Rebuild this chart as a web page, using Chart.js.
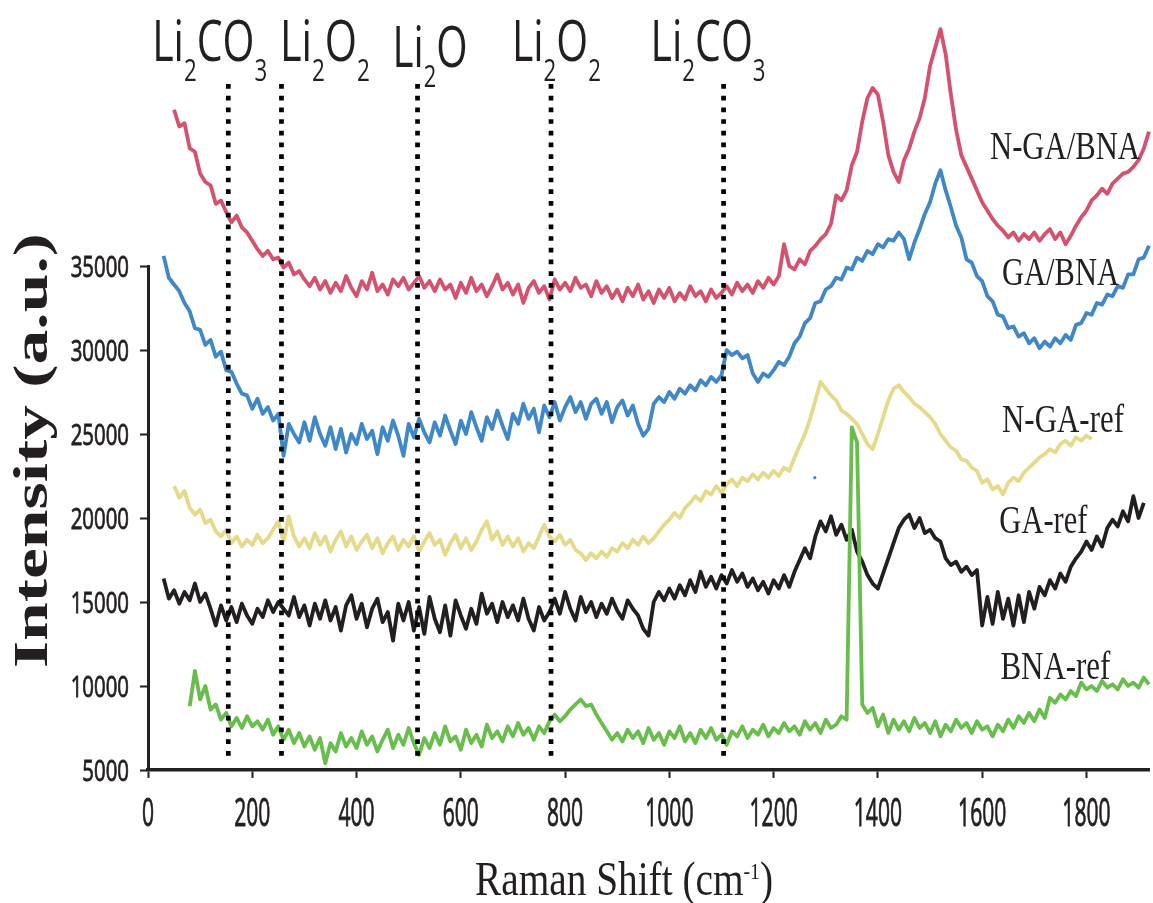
<!DOCTYPE html>
<html>
<head>
<meta charset="utf-8">
<title>Raman spectra</title>
<script src="https://cdn.jsdelivr.net/npm/chart.js@4.4.1/dist/chart.umd.min.js"></script>
<style>
  html, body { margin: 0; padding: 0; background: #fff; }
  canvas { display: block; }
</style>
</head>
<body>
<canvas id="raman" width="1153" height="903"></canvas>
<script>
// Raman shift grid: every spectrum is sampled each 10 cm-1 from its own start
const shiftStep = 10;

// intensities in thousands of counts
const ngaBnaStart = 50;
const ngaBna = [
  44.3, 43.3, 43.5, 42.0, 41.8, 40.5, 40.0, 39.8, 38.7, 38.9,
  38.2, 37.6, 38.0, 37.3, 37.0, 36.5, 36.0, 35.6, 35.9, 35.4,
  35.5, 34.9, 35.2, 34.5, 34.7, 34.2, 33.8, 34.3, 33.6, 34.1,
  33.4, 34.0, 33.5, 34.4, 33.7, 33.2, 34.1, 33.6, 34.6, 33.5,
  33.9, 33.3, 34.2, 33.8, 34.3, 33.6, 34.0, 34.4, 33.7, 34.1,
  33.5, 34.2, 33.6, 33.9, 33.1, 34.0, 33.4, 34.3, 33.5, 33.9,
  33.2, 33.8, 34.5, 33.6, 34.0, 33.3, 33.9, 32.8, 33.7, 34.1,
  33.4, 33.8, 33.0, 34.2, 33.6, 34.0, 33.5, 34.3, 33.7, 33.9,
  33.2, 34.1, 33.4, 33.8, 33.1, 33.6, 32.9, 33.7, 33.2, 33.9,
  33.0, 33.5, 32.8, 33.6, 33.1, 33.7, 32.9, 33.4, 33.0, 33.8,
  33.2, 33.5, 32.9, 33.6, 33.1, 33.4, 33.8, 33.3, 34.0, 33.5,
  33.9, 33.4, 34.1, 33.7, 34.3, 33.9, 34.4, 36.3, 35.0, 34.8,
  35.4, 35.1, 35.9, 36.2, 36.6, 36.9, 37.5, 39.2, 38.9, 39.5,
  41.0, 41.8, 43.6, 45.0, 45.6, 45.2, 43.6, 41.6, 40.6, 40.0,
  41.3, 42.0, 43.0, 43.8, 45.0, 46.9, 48.0, 49.1, 47.6, 45.2,
  43.1, 41.6, 40.9, 40.2, 39.5, 38.8, 38.3, 37.8, 37.4, 37.1,
  36.7, 37.0, 36.5, 36.9, 36.6, 37.0, 36.5, 36.9, 37.2, 36.6,
  37.0, 36.3, 36.8, 37.4, 37.9, 38.3, 38.9, 39.2, 39.6, 39.3,
  39.9, 40.2, 40.5, 40.6, 40.9, 41.3, 42.0, 43.0
];

const gaBnaStart = 30;
const gaBna = [
  35.6, 34.3, 33.9, 33.5, 32.8, 32.3, 31.3, 31.2, 30.3, 30.6,
  29.6, 29.9, 28.8, 28.7, 28.0, 27.4, 27.3, 26.5, 27.1, 26.2,
  26.6, 25.8, 26.2, 23.7, 25.6, 25.0, 24.5, 25.7, 24.6, 26.0,
  25.0, 24.3, 25.4, 24.1, 25.3, 23.9, 25.0, 24.4, 25.6, 24.7,
  25.2, 23.8, 25.4, 24.6, 25.8, 24.9, 23.7, 25.6, 24.8, 25.9,
  25.1, 24.5, 25.7, 24.9, 26.1, 25.2, 24.4, 25.8, 25.0, 26.3,
  25.4, 24.6, 26.0, 25.3, 26.4, 25.5, 24.7, 26.2, 25.6, 26.8,
  25.9, 26.5, 25.1, 26.7, 26.0, 26.9, 25.8, 26.6, 27.2, 26.3,
  26.9, 25.9, 26.8, 27.1, 26.2, 26.9, 25.7, 26.6, 27.0, 26.1,
  26.7, 25.6, 24.9, 25.3, 26.8, 27.2, 26.9, 27.5, 27.1, 27.7,
  27.4, 27.9, 27.6, 28.2, 27.9, 28.4, 28.1, 28.5, 30.0, 29.7,
  29.9, 29.5, 29.7, 28.6, 28.1, 28.6, 28.4, 28.8, 29.3, 29.1,
  29.6, 30.4, 30.8, 31.6, 31.9, 32.8, 32.9, 33.6, 33.8, 34.3,
  34.2, 34.9, 34.8, 35.5, 35.3, 35.9, 35.7, 36.3, 36.1, 36.6,
  36.5, 37.0, 36.6, 35.4, 36.4, 37.2, 38.1, 38.8, 39.9, 40.7,
  39.5, 38.5, 37.4, 36.7, 35.4, 35.2, 34.4, 34.1, 33.2, 32.9,
  32.1, 32.0, 31.3, 31.4, 30.8, 31.0, 30.4, 30.7, 30.1, 30.5,
  30.2, 30.7, 30.4, 30.9, 30.6, 31.5, 31.6, 32.2, 32.1, 32.8,
  32.7, 33.3, 33.2, 33.8, 33.7, 34.5, 34.5, 35.4, 35.5, 36.2
];

const ngaRefStart = 50;
const ngaRef = [
  21.9, 21.2, 21.6, 20.6, 20.2, 20.5, 19.7, 19.9, 19.2, 18.9,
  19.3, 18.5, 18.9, 18.3, 18.7, 18.4, 19.0, 18.5, 18.8, 19.3,
  19.8, 18.6, 20.1, 18.9, 18.3, 18.8, 18.2, 19.1, 18.4, 18.9,
  18.0, 18.7, 19.2, 18.3, 18.9, 18.1, 18.6, 19.0, 18.2, 18.8,
  17.9, 18.5, 18.9, 18.1, 18.7, 18.3, 18.9, 18.0, 18.6, 19.1,
  18.4, 18.7, 17.8, 18.5, 19.0, 18.2, 18.8, 18.1, 18.6, 19.3,
  19.8, 18.7, 19.2, 18.4, 18.9, 18.3, 18.8, 18.0, 18.5, 18.2,
  18.9, 19.6, 18.9, 18.6, 19.0, 18.4, 18.7, 18.1, 17.9, 17.5,
  17.9, 17.6, 18.0, 17.7, 18.2, 18.0, 18.5, 18.2, 18.7, 18.4,
  18.9, 18.5, 18.8, 19.2, 19.6, 19.9, 20.3, 20.0, 20.6, 20.9,
  21.3, 21.0, 21.6, 21.4, 21.9, 21.5, 22.0, 22.3, 21.9, 22.4,
  22.2, 22.6, 22.3, 22.7, 22.4, 22.8, 22.5, 23.0, 22.8, 23.6,
  24.3, 25.0, 25.9, 27.0, 28.1, 27.7, 27.3, 27.0, 26.4, 26.2,
  25.9, 25.6, 25.0, 24.4, 24.1, 25.0, 26.0, 27.0, 27.7, 27.9,
  27.5, 27.2, 26.8, 26.6, 26.3, 26.0, 25.6, 25.0, 24.6, 24.2,
  24.0, 23.5, 23.4, 23.0, 22.8, 22.1, 22.3, 21.7, 21.9, 21.4,
  22.1, 22.4, 22.2, 22.7, 23.0, 23.3, 23.6, 23.8, 24.1, 23.9,
  24.4, 24.6, 24.3, 24.8, 24.6, 24.9, 24.7
];

const gaRefStart = 30;
const gaRef = [
  16.4, 15.2, 15.7, 14.9, 15.6, 15.1, 16.1, 15.0, 15.5, 14.6,
  13.6, 14.8, 13.9, 14.7, 13.8, 14.9, 14.2, 13.7, 14.6, 14.1,
  15.1, 14.4, 15.0, 14.6, 14.2, 15.3, 14.1, 14.8, 13.6, 14.9,
  14.0, 15.1, 13.9, 14.7, 13.3, 14.8, 15.4, 14.0, 14.9, 13.5,
  14.6, 15.2, 13.8, 14.4, 12.7, 14.9, 13.9, 15.0, 13.3, 14.7,
  13.1, 15.3, 14.0, 13.2, 14.8, 13.0, 15.1, 14.2, 13.4, 14.6,
  13.7, 15.5, 14.3, 14.9, 13.8, 15.0, 14.1, 14.8, 13.9, 15.2,
  14.0, 13.3, 14.7, 13.9, 14.4, 15.2, 14.3, 15.6, 14.6, 13.9,
  15.3, 14.4, 15.0, 14.1, 14.9, 14.3, 15.2, 14.5, 14.0, 15.1,
  14.6, 14.2, 13.4, 13.0, 15.0, 15.6, 15.1, 15.8, 15.2, 16.0,
  15.4, 16.3, 15.6, 16.8, 15.9, 16.5, 15.8, 16.6, 16.1, 16.9,
  16.2, 16.7, 15.9, 16.4, 15.7, 16.2, 15.5, 16.3, 15.8, 16.6,
  15.9, 16.8, 17.5, 18.2, 17.6, 18.9, 19.8, 19.2, 20.1, 19.0,
  19.6, 18.7, 19.3, 18.0, 17.4, 16.6, 16.1, 15.8, 16.7, 17.6,
  18.5, 19.4, 19.9, 20.2, 19.4, 20.0, 19.1, 19.3, 18.8, 18.6,
  17.6, 17.2, 17.4, 16.8, 17.1, 16.6, 16.9, 13.6, 15.3, 13.7,
  15.6, 14.0, 15.2, 13.6, 15.4, 13.8, 15.6, 14.6, 15.9, 15.4,
  16.3, 15.8, 16.7, 16.2, 17.1, 17.6, 18.0, 18.6, 18.1, 18.9,
  18.3, 19.4, 19.9, 19.5, 20.4, 19.8, 21.3, 20.0, 20.9
];

const bnaRefStart = 80;
const bnaRef = [
  8.8, 10.9, 9.2, 10.0, 8.6, 8.9, 8.0, 8.4, 7.6, 8.1,
  7.5, 8.2, 7.6, 7.9, 7.4, 8.0, 7.1, 7.6, 6.8, 7.4,
  6.6, 7.2, 6.4, 7.0, 6.2, 6.9, 5.4, 6.6, 6.1, 7.2,
  6.4, 6.9, 6.3, 7.3, 6.5, 7.0, 6.1, 6.8, 7.4, 6.3,
  7.1, 6.5, 7.5, 6.6, 5.9, 6.9, 6.3, 7.2, 6.5, 7.6,
  6.7, 7.0, 6.2, 7.4, 6.6, 7.1, 6.4, 7.7, 6.9, 7.3,
  6.7, 7.6, 7.0, 7.8, 7.1, 7.5, 6.8, 7.6, 7.2, 7.9,
  8.3, 7.9, 8.2, 8.6, 8.9, 9.2, 8.8, 8.9, 8.3, 7.8,
  7.3, 6.8, 7.2, 6.7, 7.4, 6.9, 7.3, 6.6, 7.5, 6.8,
  7.2, 6.5, 7.3, 6.9, 7.6, 6.7, 7.2, 6.6, 7.4, 6.9,
  7.5, 6.8, 7.1, 6.5, 7.3, 7.0, 7.6, 6.9, 7.4, 7.1,
  7.7, 7.0, 7.5, 7.2, 7.8, 7.3, 7.6, 7.1, 7.9, 7.4,
  7.8, 7.2, 8.0, 7.5, 7.7, 8.2, 8.0, 25.4, 24.5, 8.9,
  8.4, 8.7, 7.6, 8.3, 7.2, 8.0, 7.4, 7.9, 7.3, 8.1,
  7.5, 7.8, 7.2, 7.9, 7.0, 7.7, 7.3, 8.0, 7.5, 7.8,
  7.2, 7.9, 7.4, 7.6, 7.0, 7.7, 7.3, 8.0, 7.5, 8.2,
  7.8, 8.4, 7.9, 8.6, 8.1, 9.3, 9.0, 9.5, 9.2, 9.7,
  9.4, 10.2, 9.8, 10.0, 9.7, 10.3, 9.9, 10.1, 9.8, 10.4,
  10.0, 10.2, 9.9, 10.5, 10.1
];

// a single stray blue sample that sits just above N-GA-ref
const strayPoint = [{ x: 1279, y: 22400 }];

const seriesNames = ['N-GA/BNA', 'GA/BNA', 'N-GA-ref', 'GA-ref', 'BNA-ref'];

// dotted reference lines (Raman shift) and their labels
const markerShifts = [154, 256, 517, 773, 1104];
const markerLabels = [
  ['Li', '2', 'CO', '3'],
  ['Li', '2', 'O', '2'],
  ['Li', '2', 'O'],
  ['Li', '2', 'O', '2'],
  ['Li', '2', 'CO', '3']
];
const markerTop = 45830;
const markerBottom = 5480;

const xTicks = [0, 200, 400, 600, 800, 1000, 1200, 1400, 1600, 1800];
const yTicks = [5000, 10000, 15000, 20000, 25000, 30000, 35000];

const ink = '#231f20';
const colors = ['#d5526f', '#3f87c6', '#e4da8a', '#231f20', '#69bd4c'];

function spectrum(start, vals) {
  return vals.map((v, i) => ({ x: start + i * shiftStep, y: v * 1000 }));
}

const spectra = [
  spectrum(ngaBnaStart, ngaBna),
  spectrum(gaBnaStart, gaBna),
  spectrum(ngaRefStart, ngaRef),
  spectrum(gaRefStart, gaRef),
  spectrum(bnaRefStart, bnaRef)
];
// green drawn over the others, then black, yellow ...
const drawOrder = [5, 4, 3, 2, 1];

const datasets = [];
markerShifts.forEach(s => {
  datasets.push({
    data: [{ x: s, y: markerTop }, { x: s, y: markerBottom }],
    borderColor: '#000',
    borderWidth: 4.7,
    borderDash: [4.7, 7],
    borderCapStyle: 'butt',
    pointRadius: 0,
    clip: false,
    order: 0
  });
});
spectra.forEach((pts, i) => {
  datasets.push({
    label: seriesNames[i],
    data: pts,
    borderColor: colors[i],
    borderWidth: 3.8,
    borderJoinStyle: 'round',
    pointRadius: 0,
    tension: 0,
    clip: false,
    order: drawOrder[i]
  });
});
datasets.push({
  data: strayPoint,
  showLine: false,
  pointRadius: 1.6,
  pointBorderWidth: 0,
  pointBackgroundColor: colors[1],
  order: 6
});

// text layout: label anchors in data units, sizes in pixels
const markerLabelAt = [8, 253, 469, 698, 964];
const markerLabelBase = [61, 61, 67, 61, 61];
const markerLabelWidth = [115, 90, 75, 89, 115];
const seriesLabelAt = [[1615, 41370], [1638, 33870], [1638, 25120], [1633, 19110], [1635, 10420]];
const seriesLabelWidth = [150, 117, 122, 88, 110];

function fitText(ctx, runs, x, y, width, centered) {
  let natural = 0;
  runs.forEach(r => { ctx.font = r[1]; natural += ctx.measureText(r[0]).width; });
  ctx.save();
  ctx.translate(x, y);
  ctx.scale(width / natural, 1);
  let cx = centered ? -natural / 2 : 0;
  runs.forEach(r => {
    ctx.font = r[1];
    ctx.fillText(r[0], cx, r[2]);
    cx += ctx.measureText(r[0]).width;
  });
  ctx.restore();
}

// condensed tick text, slightly heavier than plain regular
function tickText(ctx, str, x, y, font, sx, align) {
  ctx.save();
  ctx.translate(x, y);
  ctx.scale(sx, 1);
  ctx.font = font;
  ctx.textAlign = align;
  ctx.lineWidth = 0.9;
  ctx.strokeStyle = ink;
  ctx.fillText(str, 0, 0);
  ctx.strokeText(str, 0, 0);
  ctx.restore();
}

const textPlugin = {
  id: 'figureText',
  afterDraw(chart) {
    const ctx = chart.ctx;
    const xs = chart.scales.x;
    const ys = chart.scales.y;
    ctx.save();
    ctx.fillStyle = ink;
    ctx.textAlign = 'left';
    ctx.textBaseline = 'alphabetic';

    ys.ticks.forEach(t => {
      tickText(ctx, String(t.value), 129, ys.getPixelForValue(t.value) + 10.5, '30px "Open Sans"', 0.68, 'right');
    });
    xs.ticks.forEach(t => {
      tickText(ctx, String(t.value), xs.getPixelForValue(t.value), 826, '39px "Open Sans"', 0.54, 'center');
    });

    // axis titles
    fitText(ctx, [
      ['Raman Shift (cm', '48px "Liberation Serif"', 0],
      ['-1', '24px "Liberation Serif"', -16],
      [')', '48px "Liberation Serif"', 0]
    ], 475, 895, 298, false);

    ctx.save();
    ctx.translate(47, 450.5);
    ctx.rotate(-Math.PI / 2);
    fitText(ctx, [['Intensity (a.u.)', 'bold 48px "Liberation Serif"', 0]], 0, 0, 435, true);
    ctx.restore();

    // compound labels over the dotted lines
    markerLabels.forEach((parts, i) => {
      const runs = parts.map((t, k) => k % 2 === 0
        ? [t, '57px "Open Sans"', 0]
        : [t, '31px "Open Sans"', 19.5]);
      fitText(ctx, runs, xs.getPixelForValue(markerLabelAt[i]), markerLabelBase[i], markerLabelWidth[i], false);
    });

    // sample names at the right
    seriesNames.forEach((name, i) => {
      const a = seriesLabelAt[i];
      fitText(ctx, [[name, '39px "Liberation Serif"', 0]],
        xs.getPixelForValue(a[0]), ys.getPixelForValue(a[1]), seriesLabelWidth[i], false);
    });
    ctx.restore();
  }
};

new Chart(document.getElementById('raman').getContext('2d'), {
  type: 'line',
  data: { datasets },
  options: {
    responsive: false,
    animation: false,
    devicePixelRatio: 1,
    layout: { padding: { top: 266, left: 0, right: 0, bottom: 0 } },
    plugins: { legend: { display: false }, tooltip: { enabled: false } },
    scales: {
      x: {
        type: 'linear',
        min: 0,
        max: 1920,
        afterBuildTicks: s => { s.ticks = xTicks.map(v => ({ value: v })); },
        afterFit: s => { s.height = 133; },
        ticks: { display: false },
        grid: { drawOnChartArea: false, drawTicks: true, tickLength: 8, tickWidth: 2, tickColor: ink },
        border: { color: ink, width: 3.5 }
      },
      y: {
        type: 'linear',
        min: 5000,
        max: 35000,
        afterBuildTicks: s => { s.ticks = yTicks.map(v => ({ value: v })); },
        afterFit: s => { s.width = 148; },
        ticks: { display: false },
        grid: { drawOnChartArea: false, drawTicks: true, tickLength: 8, tickWidth: 2, tickColor: ink },
        border: { color: ink, width: 3 }
      }
    }
  },
  plugins: [textPlugin]
});
</script>
</body>
</html>
